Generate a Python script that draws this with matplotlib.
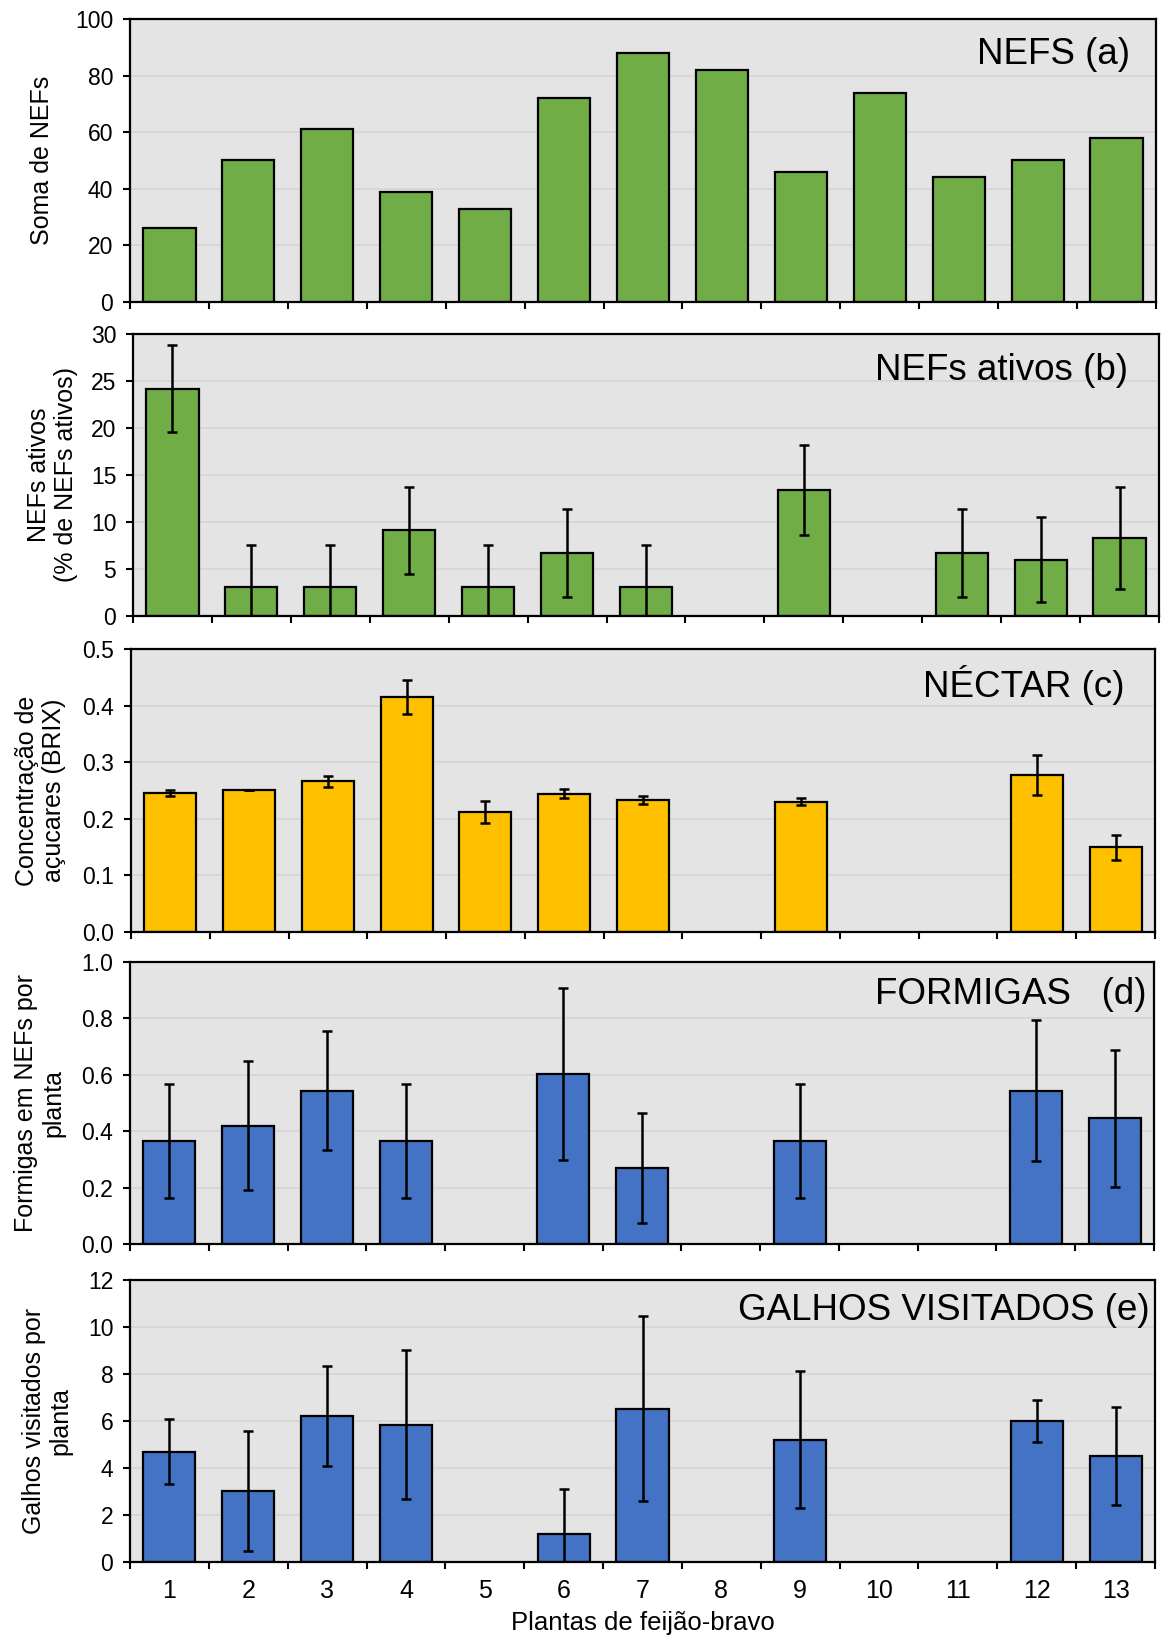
import numpy as np
import matplotlib
matplotlib.use("Agg")
import matplotlib.pyplot as plt
from matplotlib.ticker import FixedLocator, FormatStrFormatter, NullFormatter

plt.rcParams['font.family'] = ['Liberation Sans', 'DejaVu Sans']

plantas = [str(i) for i in range(1, 14)]

# (a) soma de NEFs por planta
nefs_total = [26, 50, 61, 39, 33, 72, 88, 82, 46, 74, 44, 50, 58]

# (b) NEFs ativos (% de NEFs ativos)
nefs_ativos = [24.2, 3.1, 3.1, 9.1, 3.1, 6.7, 3.1, 0, 13.4, 0, 6.7, 6.0, 8.3]
nefs_ativos_err = [4.6, 4.5, 4.5, 4.6, 4.5, 4.7, 4.5, 0, 4.8, 0, 4.7, 4.5, 5.4]

# (c) concentração de açucares (BRIX)
nectar = [0.246, 0.250, 0.266, 0.415, 0.212, 0.244, 0.233, 0, 0.230, 0, 0, 0.277, 0.150]
nectar_err = [0.005, 0.0, 0.0095, 0.030, 0.020, 0.008, 0.007, 0, 0.006, 0, 0, 0.035, 0.022]

# (d) formigas em NEFs por planta
formigas = [0.365, 0.42, 0.544, 0.365, 0, 0.603, 0.271, 0, 0.365, 0, 0, 0.544, 0.446]
formigas_err = [0.203, 0.23, 0.21, 0.203, 0, 0.306, 0.195, 0, 0.203, 0, 0, 0.25, 0.243]

# (e) galhos visitados por planta
galhos = [4.70, 3.02, 6.22, 5.85, 0, 1.18, 6.53, 0, 5.20, 0, 0, 6.01, 4.51]
galhos_err = [1.37, 2.56, 2.12, 3.18, 0, 1.93, 3.94, 0, 2.92, 0, 0, 0.89, 2.07]

GREEN = '#70AD47'
YELLOW = '#FFC000'
BLUE = '#4472C4'
BG = '#E4E4E4'
GRID = '#D6D6D6'

W, H = 1161, 1635
fig = plt.figure(figsize=(W / 100, H / 100), dpi=100)

# panel boxes in pixels: (left, top, right, bottom)
boxes = [
    (130, 19, 1156, 302),
    (133, 334, 1159, 616),
    (131, 649, 1155, 932),
    (130, 962, 1154, 1244),
    (130, 1280, 1155, 1562),
]

panels = [
    dict(vals=nefs_total, err=None, color=GREEN, ymax=100, step=20, fmt='%d',
         ylabel='Soma de NEFs', title='NEFS (a)', ty=0.875, tx=0.975, lx=-0.086),
    dict(vals=nefs_ativos, err=nefs_ativos_err, color=GREEN, ymax=30, step=5, fmt='%d',
         ylabel='NEFs ativos\n(% de NEFs ativos)', title='NEFs ativos (b)', ty=0.872, tx=0.970, lx=-0.0785),
    dict(vals=nectar, err=nectar_err, color=YELLOW, ymax=0.5, step=0.1, fmt='%.1f',
         ylabel='Concentração de\naçucares (BRIX)', title='NÉCTAR (c)', ty=0.872, tx=0.970, lx=-0.088),
    dict(vals=formigas, err=formigas_err, color=BLUE, ymax=1.0, step=0.2, fmt='%.1f',
         ylabel='Formigas em NEFs por\nplanta', title='FORMIGAS   (d)', ty=0.886, tx=0.993, lx=-0.088),
    dict(vals=galhos, err=galhos_err, color=BLUE, ymax=12, step=2, fmt='%d',
         ylabel='Galhos visitados por\nplanta', title='GALHOS VISITADOS (e)', ty=0.893, tx=0.995, lx=-0.0805),
]

x = np.arange(1, 14)

for i, (box, p) in enumerate(zip(boxes, panels)):
    l, t, r, b = box
    ax = fig.add_axes([l / W, 1 - b / H, (r - l) / W, (b - t) / H])
    ax.set_facecolor(BG)
    ax.set_axisbelow(True)

    vals = np.array(p['vals'], dtype=float)
    # empty categories get no outline so the baseline stays clean
    edge_w = np.where(vals > 0, 1.6, 0.0)
    ax.bar(x, vals, width=0.66, color=p['color'], edgecolor='black',
           linewidth=edge_w, zorder=2)
    if p['err'] is not None:
        err = np.array(p['err'])
        show = vals > 0
        ax.errorbar(x[show], vals[show], yerr=err[show], fmt='none', ecolor='black',
                    elinewidth=1.8, capsize=3.8, capthick=1.8, zorder=3)

    ax.set_xlim(0.5, 13.5)
    ax.set_ylim(0, p['ymax'])
    yt = np.arange(0, p['ymax'] + p['step'] / 2, p['step'])
    ax.set_yticks(yt)
    ax.yaxis.set_major_formatter(FormatStrFormatter(p['fmt']))
    for v in yt[1:-1]:
        ax.axhline(v, color=GRID, linewidth=1.3, zorder=1)

    # category boundary ticks, labels at category centres
    ax.xaxis.set_major_locator(FixedLocator(np.arange(0.5, 14, 1)))
    ax.xaxis.set_major_formatter(NullFormatter())
    ax.xaxis.set_minor_locator(FixedLocator(x))
    if i == len(panels) - 1:
        ax.set_xticklabels(plantas, minor=True)
        ax.set_xlabel('Plantas de feijão-bravo', fontsize=18.5, labelpad=6)
    else:
        ax.xaxis.set_minor_formatter(NullFormatter())
    ax.tick_params(axis='x', which='major', direction='out', length=5, width=1.5)
    ax.tick_params(axis='x', which='minor', length=0, labelsize=18, pad=12)
    ax.tick_params(axis='y', direction='out', length=5, width=1.5, labelsize=16.5, pad=7)

    for s in ax.spines.values():
        s.set_linewidth(1.6)
        s.set_color('black')

    ax.set_ylabel(p['ylabel'], fontsize=18, va='center', multialignment='center',
                  linespacing=1.15)
    ax.yaxis.set_label_coords(p['lx'], 0.5)

    ax.text(p['tx'], p['ty'], p['title'], transform=ax.transAxes, ha='right',
            va='center', fontsize=26.5, color='black')

fig.savefig('out.png', dpi=100, facecolor='white')
